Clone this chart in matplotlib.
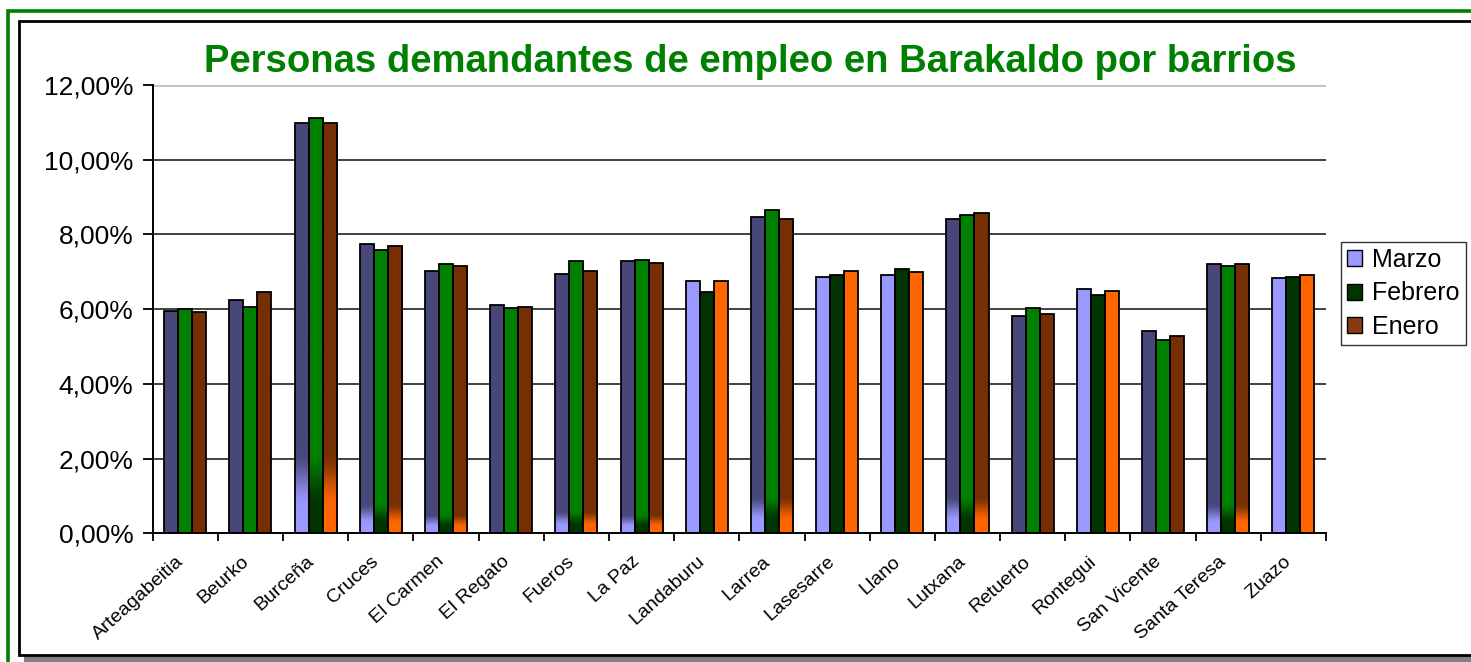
import matplotlib
matplotlib.use("Agg")
import matplotlib.pyplot as plt
import numpy as np
from matplotlib.patches import Rectangle
from matplotlib.ticker import FuncFormatter
from matplotlib.transforms import ScaledTranslation

plt.rcParams['font.family'] = ['Liberation Sans', 'DejaVu Sans']

# ---------------- data ----------------
barrios = ["Arteagabeitia", "Beurko", "Burceña", "Cruces", "El Carmen", "El Regato",
           "Fueros", "La Paz", "Landaburu", "Larrea", "Lasesarre", "Llano", "Lutxana",
           "Retuerto", "Rontegui", "San Vicente", "Santa Teresa", "Zuazo"]
marzo   = [5.96, 6.24, 10.99, 7.74, 7.03, 6.11, 6.95, 7.29, 6.75, 8.46, 6.87, 6.91, 8.42, 5.82, 6.54, 5.42, 7.22, 6.83]
febrero = [6.01, 6.07, 11.12, 7.58, 7.22, 6.03, 7.30, 7.32, 6.46, 8.66, 6.92, 7.08, 8.53, 6.04, 6.38, 5.18, 7.16, 6.87]
enero   = [5.92, 6.46, 10.99, 7.70, 7.16, 6.07, 7.03, 7.24, 6.75, 8.42, 7.03, 7.00, 8.58, 5.87, 6.49, 5.29, 7.22, 6.92]
series_names = ["Marzo", "Febrero", "Enero"]
# fill style per barrio: 'dark', 'light', or a gradient height (in %) at the bar foot
fill_style = ['dark', 'dark', 2.2, 0.8, 0.5, 'dark', 0.6, 0.5, 'light', 1.0,
              'light', 'light', 1.0, 'dark', 'light', 'dark', 0.8, 'light']
yticks = [0, 2, 4, 6, 8, 10, 12]

# ---------------- styles ----------------
dark_cols  = ["#47477A", "#008000", "#762F02"]
light_cols = ["#9999FF", "#003300", "#FF6600"]
legend_cols = ["#9999FF", "#003300", "#8A3A10"]
W, H = 1471, 662

fig = plt.figure(figsize=(W / 100, H / 100), dpi=100)
fig.patch.set_facecolor("white")

def fx(px):
    return px / W

def fy(py):
    return 1 - py / H

# outer green frame
fig.patches.append(Rectangle((fx(8), fy(680)), fx(1500 - 8), (680 - 11) / H,
                             transform=fig.transFigure, fill=False,
                             edgecolor="#008000", linewidth=2.6, zorder=0))
# shadow and inner box
fig.patches.append(Rectangle((fx(24), fy(662)), fx(1500), (662 - 26) / H,
                             transform=fig.transFigure, facecolor="#808080",
                             edgecolor="none", zorder=0.5))
fig.patches.append(Rectangle((fx(19), fy(655)), fx(1500), (655 - 21) / H,
                             transform=fig.transFigure, facecolor="white",
                             edgecolor="black", linewidth=2.0, zorder=0.6))

ax = fig.add_axes([fx(152.7), fy(533.3), fx(1326 - 152.7), (533.3 - 85) / H])
ax.set_facecolor("none")
ax.set_zorder(2)

n = len(barrios)
x = np.arange(n)
bw = 0.215
offsets = [-bw, 0, bw]
data = [marzo, febrero, enero]

for si, vals in enumerate(data):
    dc = np.array(matplotlib.colors.to_rgb(dark_cols[si]))
    lc = np.array(matplotlib.colors.to_rgb(light_cols[si]))
    for i in range(n):
        st = fill_style[i]
        fc = light_cols[si] if st == 'light' else dark_cols[si]
        bars = ax.bar(x[i] + offsets[si], vals[i], width=bw, color=fc,
                      edgecolor="none", zorder=2)
        if st not in ('light', 'dark'):
            p = bars[0]
            h = vals[i]
            ys = np.linspace(0, h, 400)
            t = np.clip((ys / st - 0.3) / 0.7, 0, 1)
            t = t * t * (3 - 2 * t)
            img = (lc[None, :] * (1 - t[:, None]) + dc[None, :] * t[:, None])[:, None, :]
            im = ax.imshow(img, extent=[p.get_x(), p.get_x() + p.get_width(), 0, h],
                           origin="lower", aspect="auto", zorder=2.5,
                           interpolation="bilinear")
            im.set_clip_path(p)
        ax.bar(x[i] + offsets[si], vals[i], width=bw, facecolor="none",
               edgecolor="black", linewidth=1.3, zorder=3)

ax.set_xlim(-0.5, n - 0.5)
ax.set_ylim(0, 12)
ax.set_yticks(yticks)
ax.yaxis.set_major_formatter(FuncFormatter(lambda v, p: f"{v:.2f}".replace(".", ",") + "%"))
ax.tick_params(axis="y", labelsize=19, length=7, width=1.3, direction="out", pad=7)

ax.set_xticks(x)
ax.set_xticklabels(barrios, rotation=42, ha="right", va="top", rotation_mode="anchor",
                   fontsize=14)
ax.tick_params(axis="x", length=0, pad=14)
shift = ScaledTranslation(-10 / 100, 0, fig.dpi_scale_trans)
for lab in ax.get_xticklabels():
    lab.set_transform(lab.get_transform() + shift)
ax.set_xticks(np.arange(-0.5, n, 1), minor=True)
ax.tick_params(axis="x", which="minor", length=6, width=1.3, direction="out")

for yv in yticks[1:-1]:
    ax.axhline(yv, color="#333333", linewidth=1.3, zorder=1)
ax.axhline(12, color="#C0C0C0", linewidth=2.0, zorder=1)

for s in ["top", "right"]:
    ax.spines[s].set_visible(False)
for s in ["left", "bottom"]:
    ax.spines[s].set_linewidth(1.4)
    ax.spines[s].set_zorder(4)

fig.text(fx(750), fy(62), "Personas demandantes de empleo en Barakaldo por barrios",
         ha="center", va="center", fontsize=27.5, fontweight="bold", color="#008000")

handles = [Rectangle((0, 0), 1, 1, facecolor=c, edgecolor="black", linewidth=1.0)
           for c in legend_cols]
leg = fig.legend(handles, series_names, loc="center left",
                 bbox_to_anchor=(fx(1341), fy(293.5)), fontsize=18, frameon=True,
                 fancybox=False, edgecolor="black", handlelength=0.6, handleheight=0.6,
                 handletextpad=0.4, labelspacing=0.38, borderpad=0.25, borderaxespad=0)
leg.get_frame().set_linewidth(1.0)

fig.savefig("out.png", dpi=100)
